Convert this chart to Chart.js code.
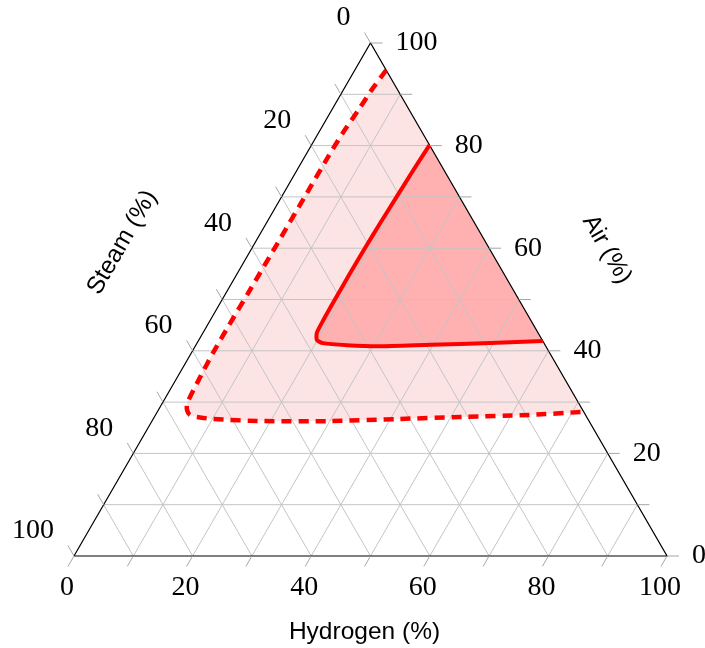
<!DOCTYPE html>
<html>
<head>
<meta charset="utf-8">
<script src="https://cdn.jsdelivr.net/npm/chart.js@4.4.1/dist/chart.umd.min.js"></script>
<style>
  html, body { margin: 0; padding: 0; background: #ffffff; }
  #wrap { width: 705px; height: 648px; }
</style>
</head>
<body>
<div id="wrap"><canvas id="chart" width="705" height="648"></canvas></div>
<script>
// Ternary composition diagram: hydrogen / air / steam, all in percent.
const hydrogenTicks = [0, 20, 40, 60, 80, 100];
const airTicks = [0, 20, 40, 60, 80, 100];
const steamTicks = [0, 20, 40, 60, 80, 100];
const gridSteps = [0, 10, 20, 30, 40, 50, 60, 70, 80, 90, 100];

// Triangle corners as (hydrogen %, air %): pure steam, pure hydrogen, pure air
const cornerHydrogen = [0, 100, 0, 0];
const cornerAir = [0, 0, 100, 0];

// Outer (dashed) region boundary; steam is the remainder to 100 %
const outerHydrogen = [5.3, 4.8, 4.5, 4.1, 3.95, 3.9, 3.85, 3.75, 3.65, 3.65, 3.9, 4.2, 4.8, 5.8, 7.2, 10.1, 18.7, 30.0, 41.1, 52.0, 63.0, 71.9];
const outerAir = [94.7, 91.2, 87.0, 82.5, 78.0, 70.0, 62.0, 52.0, 45.0, 39.5, 33.7, 29.8, 28.5, 27.5, 27.1, 26.7, 26.3, 26.3, 26.7, 27.1, 27.5, 28.1];

// Inner (solid) region boundary
const innerHydrogen = [19.9, 19.6, 19.4, 19.2, 19.05, 19.0, 19.0, 19.05, 19.2, 19.9, 21.2, 25.5, 31.0, 39.5, 49.5, 58.1];
const innerAir = [80.1, 75.0, 70.0, 65.0, 60.0, 55.0, 50.0, 46.0, 43.5, 42.1, 41.5, 41.1, 40.9, 41.2, 41.5, 41.9];

const H = Math.sqrt(3) / 2;
// (hydrogen, air) -> cartesian point of the equilateral triangle
function toXY(h, a) { return { x: h + a / 2, y: a * H }; }
function series(hs, as) { return hs.map((h, i) => toXY(h, as[i])); }

const TICK_LEN = 12;
const labelFont = '28px "Liberation Serif", serif';
const titleFont = '24.5px "Liberation Sans", Arial, sans-serif';

const ternaryFrame = {
  id: 'ternaryFrame',
  beforeDatasetsDraw(chart) {
    const ctx = chart.ctx;
    const xs = chart.scales.x, ys = chart.scales.y;
    const px = (h, a) => { const p = toXY(h, a); return [xs.getPixelForValue(p.x), ys.getPixelForValue(p.y)]; };

    // region fills (outer first), closed along the right edge of the triangle
    for (const idx of [1, 0]) {
      const line = chart.getDatasetMeta(idx).dataset;
      line.updateControlPoints(chart.chartArea, 'x');
      ctx.save();
      ctx.beginPath();
      line.path(ctx);
      ctx.closePath();
      ctx.fillStyle = line.options.backgroundColor;
      ctx.fill();
      ctx.restore();
    }

    // 10 % grid in the three directions
    ctx.save();
    ctx.strokeStyle = '#c4c4c4';
    ctx.lineWidth = 1;
    ctx.beginPath();
    for (const k of gridSteps) {
      if (k === 0 || k === 100) continue;
      let p, q;
      p = px(0, k); q = px(100 - k, k);            // constant air
      ctx.moveTo(p[0], p[1]); ctx.lineTo(q[0], q[1]);
      p = px(k, 0); q = px(k, 100 - k);            // constant hydrogen
      ctx.moveTo(p[0], p[1]); ctx.lineTo(q[0], q[1]);
      p = px(100 - k, 0); q = px(0, 100 - k);      // constant steam
      ctx.moveTo(p[0], p[1]); ctx.lineTo(q[0], q[1]);
    }
    ctx.stroke();
    ctx.restore();
  },
  afterDatasetsDraw(chart) {
    const ctx = chart.ctx;
    const xs = chart.scales.x, ys = chart.scales.y;
    const px = (h, a) => { const p = toXY(h, a); return [xs.getPixelForValue(p.x), ys.getPixelForValue(p.y)]; };

    // outward tick marks
    ctx.save();
    ctx.strokeStyle = '#a6a6a6';
    ctx.lineWidth = 1;
    ctx.beginPath();
    for (const k of gridSteps) {
      let p = px(100 - k, k);                       // air: horizontal, to the right
      ctx.moveTo(p[0], p[1]); ctx.lineTo(p[0] + TICK_LEN, p[1]);
      p = px(k, 0);                                 // hydrogen: down-left
      ctx.moveTo(p[0], p[1]); ctx.lineTo(p[0] - TICK_LEN * 0.5, p[1] + TICK_LEN * H);
      p = px(0, 100 - k);                           // steam: up-left
      ctx.moveTo(p[0], p[1]); ctx.lineTo(p[0] - TICK_LEN * 0.5, p[1] - TICK_LEN * H);
    }
    ctx.stroke();

    // tick labels
    ctx.fillStyle = '#000000';
    ctx.font = labelFont;
    ctx.textBaseline = 'middle';
    ctx.textAlign = 'center';
    for (const v of hydrogenTicks) {
      const p = px(v, 0);
      ctx.fillText(String(v), p[0] - 7, p[1] + 32);
    }
    ctx.textAlign = 'left';
    for (const v of airTicks) {
      const p = px(100 - v, v);
      ctx.fillText(String(v), p[0] + 25, p[1]);
    }
    ctx.textAlign = 'right';
    for (const v of steamTicks) {
      const p = px(0, 100 - v);
      ctx.fillText(String(v), p[0] - 20, p[1] - 25);
    }

    // axis titles
    ctx.font = titleFont;
    ctx.textAlign = 'center';
    let m = px(50, 0);
    ctx.fillText('Hydrogen (%)', m[0] - 6, m[1] + 76);

    m = px(0, 50);
    ctx.save();
    ctx.translate(m[0] - 100, m[1] - 57);
    ctx.rotate(-Math.PI / 3);
    ctx.fillText('Steam (%)', 0, 0);
    ctx.restore();

    m = px(50, 50);
    ctx.save();
    ctx.translate(m[0] + 88, m[1] - 50);
    ctx.rotate(Math.PI / 3);
    ctx.fillText('Air (%)', 0, 0);
    ctx.restore();
    ctx.restore();
  }
};

new Chart(document.getElementById('chart'), {
  type: 'scatter',
  data: {
    datasets: [
      {
        label: 'inner',
        data: series(innerHydrogen, innerAir),
        showLine: true,
        borderColor: '#ff0000',
        backgroundColor: '#ffb1b1',
        borderWidth: 4,
        tension: 0.2,
        pointRadius: 0,
        fill: false,
        clip: false
      },
      {
        label: 'outer',
        data: series(outerHydrogen, outerAir),
        showLine: true,
        borderColor: '#ff0000',
        backgroundColor: '#fde4e4',
        borderWidth: 4.5,
        borderDash: [10, 7],
        tension: 0.25,
        pointRadius: 0,
        fill: false,
        clip: false
      },
      {
        label: 'frame',
        data: series(cornerHydrogen, cornerAir),
        showLine: true,
        borderColor: '#000000',
        borderWidth: 1.2,
        tension: 0,
        pointRadius: 0,
        fill: false,
        clip: false
      }
    ]
  },
  options: {
    responsive: false,
    maintainAspectRatio: false,
    devicePixelRatio: 1,
    animation: false,
    events: [],
    layout: { padding: { left: 74, right: 38, top: 43, bottom: 92 } },
    scales: {
      x: { type: 'linear', min: 0, max: 100, display: false },
      y: { type: 'linear', min: 0, max: 100 * H, display: false }
    },
    plugins: {
      legend: { display: false },
      tooltip: { enabled: false }
    }
  },
  plugins: [ternaryFrame]
});
</script>
</body>
</html>
